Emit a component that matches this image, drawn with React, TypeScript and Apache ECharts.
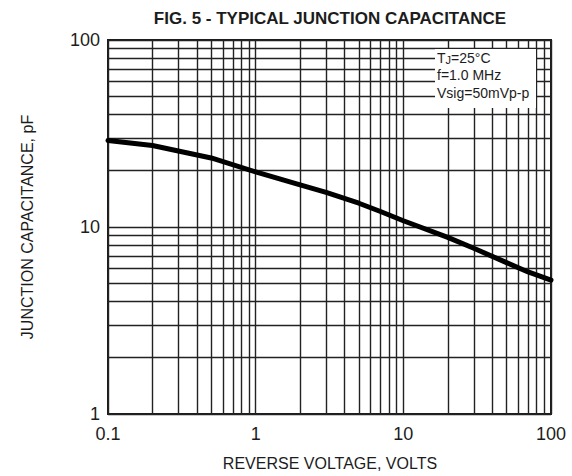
import React, { useEffect, useRef } from "react";
import * as echarts from "echarts";

const voltage = [0.1, 0.2, 0.5, 1, 2, 3, 5, 7, 10, 20, 30, 50, 70, 100];
const capacitance = [29, 27.3, 23.4, 19.7, 16.8, 15.3, 13.4, 12.1, 10.8, 8.8, 7.7, 6.45, 5.75, 5.2];

const xMinorGrid = [0.2, 0.3, 0.4, 0.5, 0.6, 0.7, 0.8, 0.9, 2, 3, 4, 5, 6, 7, 8, 9, 20, 30, 40, 50, 60, 70, 80, 90];
const yMinorGrid = [2, 3, 4, 5, 6, 7, 8, 9, 20, 30, 40, 50, 60, 70, 80, 90];

const titleText = "FIG. 5 - TYPICAL JUNCTION CAPACITANCE";
const xName = "REVERSE VOLTAGE, VOLTS";
const yName = "JUNCTION CAPACITANCE, pF";

const FONT = "'Liberation Sans', Arial, Helvetica, sans-serif";
const INK = "#1c1c1c";
const GRID = "#222222";

export default function App() {
  const ref = useRef<HTMLDivElement>(null);
  useEffect(() => {
    if (!ref.current) return;
    const chart = echarts.init(ref.current, null, { renderer: "svg" });
    const markData = [
      ...xMinorGrid.map((v) => ({ xAxis: v })),
      ...yMinorGrid.map((v) => ({ yAxis: v })),
    ];
    chart.setOption({
      animation: false,
      backgroundColor: "#ffffff",
      grid: {
        left: 108,
        right: 21,
        top: 40,
        bottom: 62,
        show: true,
        borderColor: INK,
        borderWidth: 2,
        backgroundColor: "transparent",
      },
      xAxis: {
        type: "log",
        logBase: 10,
        min: 0.1,
        max: 100,
        axisLine: { show: false },
        axisTick: { show: false },
        axisLabel: {
          fontFamily: FONT,
          fontSize: 18,
          color: INK,
          margin: 11,
          formatter: (v: number) => String(v),
        },
        splitLine: { show: true, lineStyle: { color: GRID, width: 1.4 } },
      },
      yAxis: {
        type: "log",
        logBase: 10,
        min: 1,
        max: 100,
        axisLine: { show: false },
        axisTick: { show: false },
        axisLabel: {
          fontFamily: FONT,
          fontSize: 18,
          color: INK,
          margin: 8,
          formatter: (v: number) => String(v),
        },
        splitLine: { show: true, lineStyle: { color: GRID, width: 1.4 } },
      },
      series: [
        {
          type: "line",
          data: voltage.map((v, i) => [v, capacitance[i]]),
          smooth: false,
          showSymbol: false,
          lineStyle: { color: "#000", width: 5, cap: "round", join: "round" },
          z: 5,
          markLine: {
            silent: true,
            symbol: ["none", "none"],
            label: { show: false },
            lineStyle: { color: GRID, width: 1.4, type: "solid" },
            emphasis: { disabled: true },
            data: markData,
            z: 1,
          },
        },
      ],
      graphic: [
        {
          type: "text",
          x: 330,
          y: 18,
          style: {
            text: titleText,
            font: `bold 17px ${FONT}`,
            fill: INK,
            textAlign: "center",
            textVerticalAlign: "middle",
          },
        },
        {
          type: "text",
          x: 330,
          y: 463,
          style: {
            text: xName,
            font: `16px ${FONT}`,
            fill: INK,
            textAlign: "center",
            textVerticalAlign: "middle",
          },
        },
        {
          type: "text",
          x: 27,
          y: 227,
          rotation: Math.PI / 2,
          style: {
            text: yName,
            font: `16px ${FONT}`,
            fill: INK,
            textAlign: "center",
            textVerticalAlign: "middle",
          },
        },
        {
          type: "rect",
          z: 100,
          shape: { x: 435, y: 49, width: 101, height: 59 },
          style: { fill: "#ffffff" },
        },
        {
          type: "text",
          z: 101,
          x: 437,
          y: 57,
          style: {
            text: "{a|T}{s|J}{a|=25°C}",
            textVerticalAlign: "middle",
            rich: {
              a: { font: `14px ${FONT}`, fill: INK, color: INK, lineHeight: 16, verticalAlign: "bottom" },
              s: { font: `11px ${FONT}`, fill: INK, color: INK, lineHeight: 16, verticalAlign: "bottom", padding: [3, 0, 0, 0] },
            },
          },
        },
        {
          type: "text",
          z: 101,
          x: 437,
          y: 75,
          style: {
            text: "f=1.0 MHz",
            font: `14px ${FONT}`,
            fill: INK,
            textVerticalAlign: "middle",
          },
        },
        {
          type: "text",
          z: 101,
          x: 437,
          y: 93,
          style: {
            text: "Vsig=50mVp-p",
            font: `14px ${FONT}`,
            fill: INK,
            textVerticalAlign: "middle",
          },
        },
      ],
    });
    return () => chart.dispose();
  }, []);
  return <div ref={ref} style={{ width: 572, height: 476, position: "absolute", left: 0, top: 0 }} />;
}
